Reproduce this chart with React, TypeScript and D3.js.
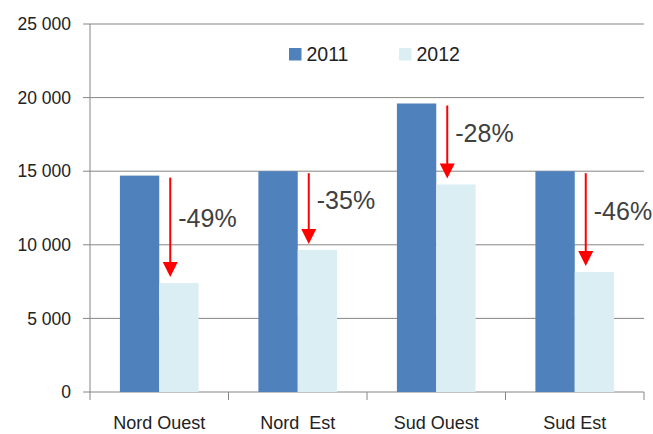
import React from "react";
import * as d3 from "d3";

const categories = ["Nord Ouest", "Nord  Est", "Sud Ouest", "Sud Est"];
const series = ["2011", "2012"];
const values2011 = [14700, 15000, 19600, 15000];
const values2012 = [7400, 9650, 14100, 8150];
const dropLabels = ["-49%", "-35%", "-28%", "-46%"];
const yTicks = [0, 5000, 10000, 15000, 20000, 25000];

const colors = ["#4F81BD", "#DBEEF4"];
const W = 653, H = 434;
const margin = { top: 24, right: 9, bottom: 42, left: 90 };

const fmt = (v: number) => {
  const s = String(v);
  return s.length > 3 ? s.slice(0, -3) + " " + s.slice(-3) : s;
};

export default function App() {
  const x0 = d3.scaleBand<string>()
    .domain(categories)
    .range([margin.left, W - margin.right])
    .padding(0);
  const x1 = d3.scaleBand<string>()
    .domain(series)
    .range([0, x0.bandwidth()])
    .paddingInner(0)
    .paddingOuter(0.76);
  const y = d3.scaleLinear()
    .domain([0, 25000])
    .range([H - margin.bottom, margin.top]);

  const rows = categories.map((c, i) => ({ c, a: values2011[i], b: values2012[i], label: dropLabels[i] }));
  const x0Edges = [...categories.map(c => x0(c)!), W - margin.right];
  const font = "'Liberation Sans', Arial, sans-serif";

  return (
    <svg width={W} height={H} style={{ position: "absolute", left: 0, top: 0 }} fontFamily={font}>
      {/* grid + y ticks */}
      {yTicks.map(t => (
        <g key={t}>
          <line x1={margin.left - 7} x2={W - margin.right} y1={y(t)} y2={y(t)} stroke="#868686" strokeWidth={1} />
          <text x={71} y={y(t)} dy="0.35em" textAnchor="end" fontSize={17.5} fill="#222">{fmt(t)}</text>
        </g>
      ))}
      <line x1={margin.left} x2={margin.left} y1={margin.top} y2={y(0)} stroke="#868686" />
      {x0Edges.map((e, i) => (
        <line key={i} x1={e} x2={e} y1={y(0)} y2={y(0) + 8} stroke="#868686" />
      ))}

      {/* bars */}
      {rows.map(r => (
        <g key={r.c} transform={`translate(${x0(r.c)},0)`}>
          <rect x={x1("2011")} y={y(r.a)} width={x1.bandwidth()} height={y(0) - y(r.a)} fill={colors[0]} />
          <rect x={x1("2012")} y={y(r.b)} width={x1.bandwidth()} height={y(0) - y(r.b)} fill={colors[1]} />
        </g>
      ))}

      {/* drop arrows */}
      {rows.map(r => {
        const ax = x0(r.c)! + x1("2012")! + 11;
        const top = y(r.a) + 2;
        const tip = y(r.b) - 6;
        const mid = (top + tip) / 2;
        return (
          <g key={r.c + "arrow"}>
            <line x1={ax} x2={ax} y1={top} y2={tip - 12} stroke="#FF0000" strokeWidth={2} />
            <path d={`M${ax - 7.5},${tip - 15}L${ax + 7.5},${tip - 15}L${ax},${tip}Z`} fill="#FF0000" />
            <text x={ax + 8} y={mid} fontSize={25} fill="#404040">{r.label}</text>
          </g>
        );
      })}

      {/* category labels */}
      {categories.map(c => (
        <text key={c} x={x0(c)! + x0.bandwidth() / 2} y={429} textAnchor="middle" fontSize={18} fill="#222" style={{ whiteSpace: "pre" }}>{c}</text>
      ))}

      {/* legend */}
      {series.map((s, i) => (
        <g key={s} transform={`translate(${289 + i * 110},48)`}>
          <rect width={12.5} height={12.5} fill={colors[i]} />
          <text x={17.5} y={12.7} fontSize={19.5} fill="#222">{s}</text>
        </g>
      ))}
    </svg>
  );
}
